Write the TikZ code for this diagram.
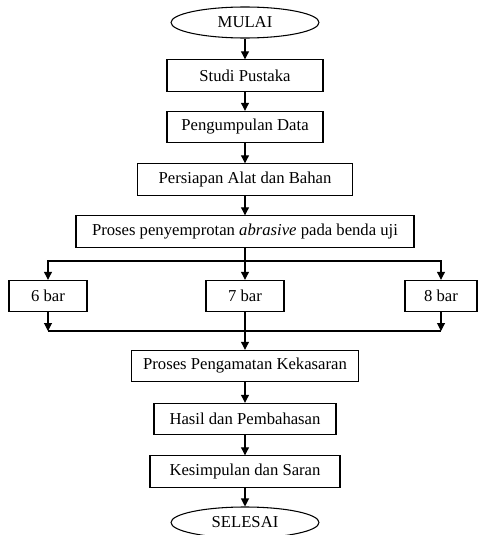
\documentclass[tikz,border=0pt]{standalone}
\usepackage{fontspec}
\setmainfont{Liberation Serif}
\usepackage{tikz}
\usetikzlibrary{arrows.meta, positioning, calc, shapes.geometric}
\tikzset{
    kotak/.style={draw, line width=0.8pt, minimum height=23.5pt, inner sep=0pt, font=\fontsize{12.5}{14}\selectfont},
    terminal/.style={draw, ellipse, line width=0.8pt, minimum width=111pt, minimum height=23.25pt, inner sep=0pt, font=\fontsize{12.5}{14}\selectfont},
    panah/.style={-{Triangle[width=6pt, length=6pt]}, line width=0.8pt}
}

\begin{document}
\begin{tikzpicture}[x=0.75pt, y=-0.75pt]
    \useasboundingbox (0,0) rectangle (478,535);

    % Alur utama
    \node[terminal] (mulai) at (245,22.5) {MULAI};
    \node[kotak, minimum width=117pt] (studi) at (245,75.5) {Studi Pustaka};
    \node[kotak, minimum width=117pt] (data) at (245,127) {Pengumpulan Data};
    \node[kotak, minimum width=161pt] (alat) at (245,179.5) {Persiapan Alat dan Bahan};
    \node[kotak, minimum width=253.5pt] (semprot) at (245,231.5) {Proses penyemprotan \textit{abrasive} pada benda uji};

    % Variasi tekanan
    \node[kotak, minimum width=58.5pt] (b6) at (48,296) {6 bar};
    \node[kotak, minimum width=58.5pt] (b7) at (245,296) {7 bar};
    \node[kotak, minimum width=54pt] (b8) at (441,296) {8 bar};

    \node[kotak, minimum width=170pt] (amati) at (245,366) {Proses Pengamatan Kekasaran};
    \node[kotak, minimum width=136.5pt] (hasil) at (245,419) {Hasil dan Pembahasan};
    \node[kotak, minimum width=142.5pt] (simpul) at (245,471.5) {Kesimpulan dan Saran};
    \node[terminal] (selesai) at (245,522.5) {SELESAI};

    \coordinate (cabang) at (245,261);
    \coordinate (gabung) at (245,331);

    % Panah
    \draw[panah] (mulai) -- (studi);
    \draw[panah] (studi) -- (data);
    \draw[panah] (data) -- (alat);
    \draw[panah] (alat) -- (semprot);
    \draw[panah] (semprot) -- (b7);
    \draw[panah] (cabang) -| (b6);
    \draw[panah] (cabang) -| (b8);
    \draw[panah] (b6) -- (b6 |- gabung);
    \draw[panah] (b8) -- (b8 |- gabung);
    \draw[line width=0.8pt] (b6 |- gabung) -- (b8 |- gabung);
    \draw[panah] (b7) -- (amati);
    \draw[panah] (amati) -- (hasil);
    \draw[panah] (hasil) -- (simpul);
    \draw[panah] (simpul) -- (selesai);
\end{tikzpicture}
\end{document}
